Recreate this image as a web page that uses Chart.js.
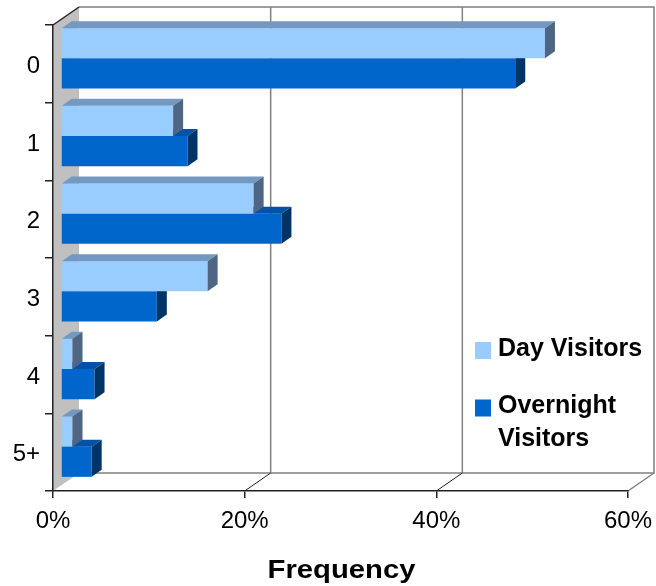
<!DOCTYPE html>
<html>
<head>
<meta charset="utf-8">
<title>Frequency</title>
<script src="https://cdn.jsdelivr.net/npm/chart.js@4/dist/chart.umd.min.js"></script>
<style>
  html, body { margin: 0; padding: 0; background: #fff; }
  #wrap { width: 656px; height: 586px; }
</style>
</head>
<body>
<div id="wrap"><canvas id="chart" width="656" height="586"></canvas></div>
<script>
// ---- data ----
const categories = ['0', '1', '2', '3', '4', '5+'];
const dayVisitors = [50.5, 11.7, 20.1, 15.3, 1.2, 1.2];
const overnightVisitors = [47.4, 13.2, 23.0, 10.0, 3.5, 3.2];
const seriesNames = ['Day Visitors', 'Overnight Visitors'];
const xTickValues = [0, 20, 40, 60];
const axisTitle = 'Frequency';

// ---- look ----
const FONT = "'Liberation Sans', Arial, Helvetica, sans-serif";
const frontColors = ['#99CCFF', '#0066CC'];
const faceShades = [
  { top: '#7399C2', side: '#4F6584' },
  { top: '#0052A6', side: '#003366' }
];
const roomDepth = { dx: 26, dy: -18 };   // floor / side wall depth
const barShift = { dx: 8, dy: -5.5 };    // bars sit partway into the room
const barDepth = { dx: 10, dy: -7 };     // thickness of each bar block

function poly(ctx, pts) {
  ctx.beginPath();
  ctx.moveTo(pts[0][0], pts[0][1]);
  for (let i = 1; i < pts.length; i++) ctx.lineTo(pts[i][0], pts[i][1]);
  ctx.closePath();
}
function line(ctx, x1, y1, x2, y2) {
  ctx.beginPath(); ctx.moveTo(x1, y1); ctx.lineTo(x2, y2); ctx.stroke();
}

// Walls, floor and back grid of the 3-D box
const roomPlugin = {
  id: 'room3d',
  beforeDraw(chart) {
    const { ctx, chartArea: a, scales: { x } } = chart;
    const bl = a.left + roomDepth.dx, br = a.right + roomDepth.dx;
    const bt = a.top + roomDepth.dy, bb = a.bottom + roomDepth.dy;
    ctx.save();
    ctx.fillStyle = '#fff';
    ctx.fillRect(0, 0, chart.width, chart.height);

    // floor
    ctx.fillStyle = '#fff';
    poly(ctx, [[a.left, a.bottom], [a.right, a.bottom], [br, bb], [bl, bb]]);
    ctx.fill();

    // back wall outline + vertical grid
    ctx.strokeStyle = '#808080';
    ctx.lineWidth = 1.5;
    ctx.beginPath();
    ctx.moveTo(bl, bt); ctx.lineTo(br, bt); ctx.lineTo(br, bb); ctx.lineTo(bl, bb);
    ctx.stroke();
    x.ticks.forEach(t => {
      if (t.value <= x.min || t.value >= x.max) return;
      const px = x.getPixelForValue(t.value) + roomDepth.dx;
      line(ctx, px, bt, px, bb);
    });
    // floor right edge
    line(ctx, a.right, a.bottom, br, bb);

    // floor lines running back from each inner tick
    ctx.strokeStyle = '#222';
    ctx.lineWidth = 1;
    x.ticks.forEach(t => {
      if (t.value <= x.min || t.value >= x.max) return;
      const px = x.getPixelForValue(t.value);
      line(ctx, px, a.bottom, px + roomDepth.dx, bb);
    });

    // left side wall
    ctx.fillStyle = '#C0C0C0';
    poly(ctx, [[a.left, a.top], [bl, bt], [bl, bb], [a.left, a.bottom]]);
    ctx.fill();
    ctx.strokeStyle = '#222';
    ctx.lineWidth = 1.5;
    line(ctx, a.left, a.top, bl, bt);
    ctx.restore();
  },
  beforeDatasetsDraw(chart) {
    chart.ctx.save();
    chart.ctx.translate(barShift.dx, barShift.dy);
  },
  afterDatasetDraw(chart, args) {
    const ctx = chart.ctx;
    const shade = faceShades[args.index];
    args.meta.data.forEach(bar => {
      const { x, y, base, height } = bar.getProps(['x', 'y', 'base', 'height'], true);
      const top = y - height / 2, bottom = y + height / 2;
      const { dx, dy } = barDepth;
      ctx.fillStyle = shade.top;
      poly(ctx, [[base, top], [x, top], [x + dx, top + dy], [base + dx, top + dy]]);
      ctx.fill();
      ctx.fillStyle = shade.side;
      poly(ctx, [[x, top], [x + dx, top + dy], [x + dx, bottom + dy], [x, bottom]]);
      ctx.fill();
    });
  },
  afterDatasetsDraw(chart) {
    chart.ctx.restore();
  },
  afterDraw(chart) {
    const { ctx, chartArea: a } = chart;
    ctx.save();
    // axis title, set slightly wide
    ctx.font = 'bold 25px ' + FONT;
    ctx.fillStyle = '#000';
    ctx.textAlign = 'center';
    ctx.textBaseline = 'alphabetic';
    const cx = (a.left + a.right) / 2 + 1;
    ctx.save();
    ctx.translate(cx, 577.5);
    ctx.scale(1.17, 1);
    ctx.fillText(axisTitle, 0, 0);
    ctx.restore();

    // legend
    ctx.font = 'bold 25px ' + FONT;
    ctx.textAlign = 'left';
    const lx = 475, tx = 498, lineH = 32.5, maxW = 150;
    let baseY = 355.5;
    chart.data.datasets.forEach(ds => {
      const words = ds.label.split(' ');
      const lines = [];
      let cur = '';
      words.forEach(w => {
        const test = cur ? cur + ' ' + w : w;
        if (cur && ctx.measureText(test).width > maxW) { lines.push(cur); cur = w; }
        else cur = test;
      });
      lines.push(cur);
      ctx.fillStyle = ds.backgroundColor;
      ctx.fillRect(lx, baseY - 13.5, 16, 17);
      ctx.fillStyle = '#000';
      lines.forEach((ln, k) => ctx.fillText(ln, tx, baseY + k * lineH));
      baseY += lines.length * lineH + 25;
    });
    ctx.restore();
  }
};

new Chart(document.getElementById('chart'), {
  type: 'bar',
  data: {
    labels: categories,
    datasets: [
      { label: seriesNames[0], data: dayVisitors, backgroundColor: frontColors[0] },
      { label: seriesNames[1], data: overnightVisitors, backgroundColor: frontColors[1] }
    ]
  },
  options: {
    indexAxis: 'y',
    responsive: false,
    animation: false,
    devicePixelRatio: 1,
    layout: { padding: { left: 0, top: 25, right: 28, bottom: 0 } },
    datasets: {
      bar: { barPercentage: 1.0, categoryPercentage: 0.777, borderWidth: 0, clip: false }
    },
    plugins: {
      legend: { display: false },
      tooltip: { enabled: false }
    },
    scales: {
      x: {
        type: 'linear',
        min: 0,
        max: 60,
        afterBuildTicks(scale) { scale.ticks = xTickValues.map(v => ({ value: v })); },
        afterFit(scale) {
          scale.height = 95;
          scale.paddingLeft = 0;
          scale.paddingRight = 0;
        },
        ticks: {
          callback: v => v + '%',
          color: '#000',
          font: { family: FONT, size: 24 },
          padding: 9,
          maxRotation: 0
        },
        grid: { drawOnChartArea: false, drawTicks: true, tickLength: 7, color: '#222', lineWidth: 1.5 },
        border: { display: true, color: '#222', width: 1.5 }
      },
      y: {
        type: 'category',
        afterFit(scale) {
          scale.width = 53;
          scale.paddingTop = 0;
          scale.paddingBottom = 0;
        },
        ticks: {
          color: '#000',
          font: { family: FONT, size: 24 },
          padding: 5,
          labelOffset: 2.5
        },
        grid: { offset: true, drawOnChartArea: false, drawTicks: true, tickLength: 8, color: '#222', lineWidth: 1.5 },
        border: { display: true, color: '#222', width: 1.5 }
      }
    }
  },
  plugins: [roomPlugin]
});
</script>
</body>
</html>
